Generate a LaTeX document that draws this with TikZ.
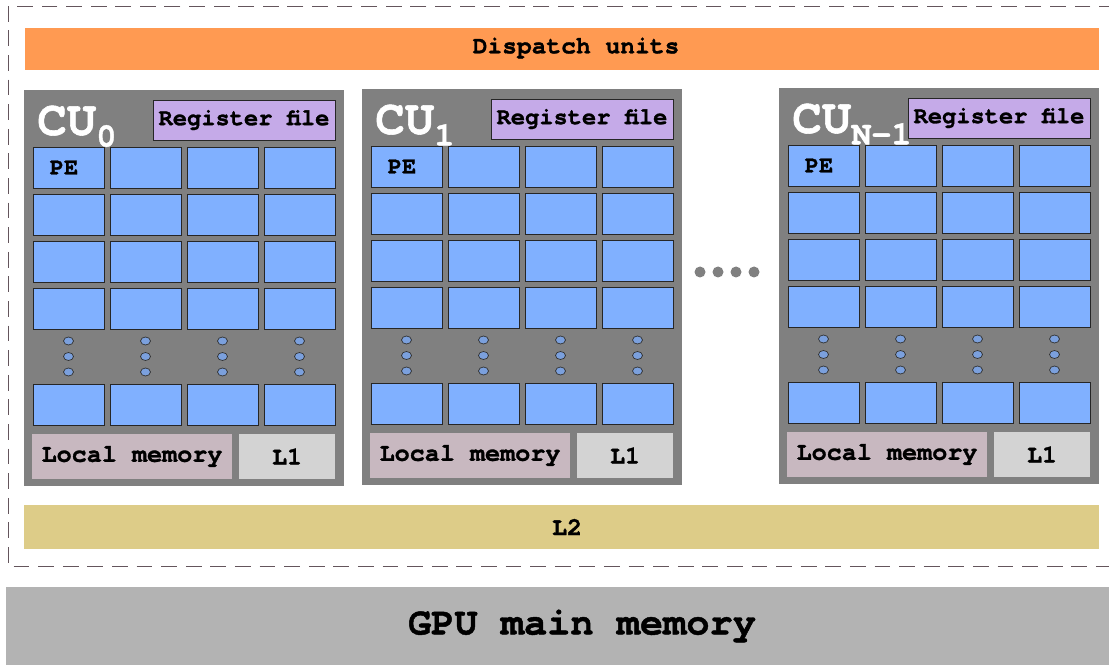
\documentclass[tikz,border=0pt]{standalone}
\usepackage{fontspec}
\setmonofont[BoldFeatures={FakeBold=1.2}]{TeX Gyre Cursor}
\usetikzlibrary{shapes.geometric}
\definecolor{dispatchc}{RGB}{255,154,82}
\definecolor{cugray}{RGB}{128,128,128}
\definecolor{peblue}{RGB}{128,176,255}
\definecolor{regc}{RGB}{197,170,232}
\definecolor{localc}{RGB}{200,184,192}
\definecolor{lonec}{RGB}{211,211,211}
\definecolor{ltwoc}{RGB}{221,204,136}
\definecolor{mainc}{RGB}{179,179,179}
\definecolor{dashc}{RGB}{100,85,92}
\begin{document}
\begin{tikzpicture}[x=0.02cm, y=-0.02cm,
	box/.style={inner sep=0pt, outer sep=0pt, font=\ttfamily\bfseries\fontsize{14.3}{14.3}\selectfont},
	pe/.style={box, draw=black!85, fill=peblue, minimum width=1.42cm, minimum height=0.82cm,
		font=\ttfamily\bfseries\fontsize{13.5}{13.5}\selectfont},
	small dot/.style={ellipse, draw=black!80, fill=peblue!85!black!90, inner sep=0pt,
		minimum width=0.2cm, minimum height=0.16cm},
	big dot/.style={circle, fill=cugray, inner sep=0pt, minimum size=0.22cm}]
		\useasboundingbox (0,0) rectangle (1109,665);
		\draw[dashc, dashed, dash pattern=on 9pt off 5pt] (1115,6) -- (8,6) -- (8,566) -- (1115,566);
		\node[box, fill=dispatchc, minimum width=21.48cm, minimum height=0.84cm] (dispatch) at (562,49) {};
		\node[box, font=\ttfamily\bfseries\fontsize{14}{14}\selectfont] (dispatch-text) at (576,48) {Dispatch units};
		\foreach \i/\cx/\cy/\sub in {0/24/90/0, 1/362/89/1, 2/779/88/N-1}{
		  \node[box, fill=cugray, minimum width=6.4cm, minimum height=7.92cm] (cu\i) at (\cx+160,\cy+198) {};
		  \node[anchor=base west, inner sep=0pt, text=white, font=\ttfamily\bfseries\fontsize{28}{28}\selectfont]
		    (cu\i-name) at (\cx+13,\cy+45) {CU\raisebox{-6.5pt}{\fontsize{19}{19}\selectfont\sub}};
		  \node[box, draw=black!85, fill=regc, minimum width=3.64cm, minimum height=0.8cm,
		    font=\ttfamily\bfseries\fontsize{13.5}{13.5}\selectfont] (cu\i-reg) at (\cx+220,\cy+30) {Register file};
		  \foreach \c in {0,...,3}{
		    \foreach \r in {0,...,3}{
		      \node[pe] (cu\i-pe\r\c) at (\cx+44.5+77*\c,\cy+77.5+47*\r) {};
		    }
		    \node[pe] (cu\i-pe4\c) at (\cx+44.5+77*\c,\cy+315) {};
		    \foreach \d in {0,1,2}{
		      \node[small dot] (cu\i-dot\c\d) at (\cx+44.5+77*\c,\cy+251+15.5*\d) {};
		    }
		  }
		  \node[font=\ttfamily\bfseries\fontsize{13.5}{13.5}\selectfont] at ([xshift=-0.09cm]cu\i-pe00) {PE};
		  \node[box, fill=localc, minimum width=4.0cm, minimum height=0.9cm] (cu\i-local) at (\cx+108,\cy+366.5) {Local memory};
		  \node[box, fill=lonec, minimum width=1.92cm, minimum height=0.9cm] (cu\i-l1) at (\cx+263,\cy+366.5) {L1};
		}
		\foreach \k in {0,...,3}{
		  \node[big dot] (more\k) at (700+18*\k,272) {};
		}
		\node[box, fill=ltwoc, minimum width=21.5cm, minimum height=0.88cm] (ltwo) at (561.5,527) {};
		\node[box] (ltwo-text) at (567,527) {L2};
		\node[box, fill=mainc, minimum width=23.04cm, minimum height=1.56cm,
		  font=\ttfamily\bfseries\fontsize{22}{22}\selectfont] (mainmem) at (582,626) {GPU main memory};
\end{tikzpicture}
\end{document}
